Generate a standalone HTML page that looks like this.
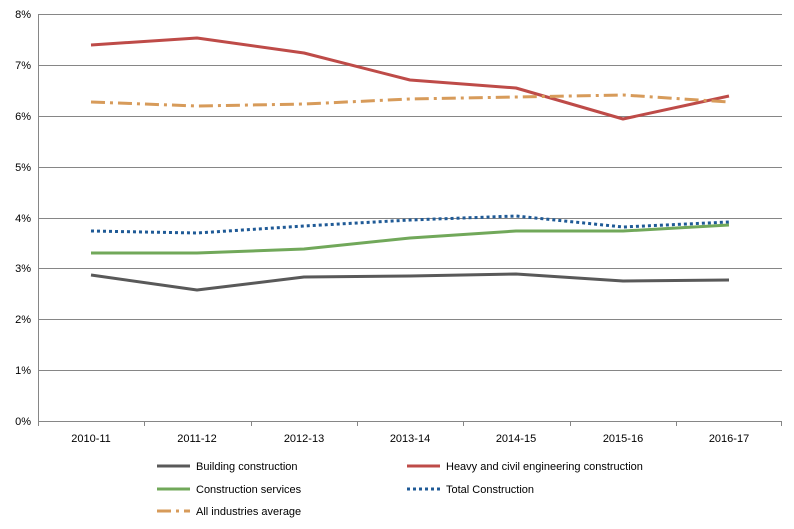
<!DOCTYPE html>
<html><head><meta charset="utf-8"><style>
html,body{margin:0;padding:0;background:#fff;}
svg{display:block;font-family:"Liberation Sans",Arial,sans-serif;}
</style></head><body>
<svg width="794" height="529" viewBox="0 0 794 529" xmlns="http://www.w3.org/2000/svg">
<rect width="794" height="529" fill="#fff"/>
<g stroke="#868686" stroke-width="1">
<line x1="38" y1="14.5" x2="782" y2="14.5"/>
<line x1="38" y1="65.5" x2="782" y2="65.5"/>
<line x1="38" y1="116.5" x2="782" y2="116.5"/>
<line x1="38" y1="167.5" x2="782" y2="167.5"/>
<line x1="38" y1="218.5" x2="782" y2="218.5"/>
<line x1="38" y1="268.5" x2="782" y2="268.5"/>
<line x1="38" y1="319.5" x2="782" y2="319.5"/>
<line x1="38" y1="370.5" x2="782" y2="370.5"/>
<line x1="38" y1="421.5" x2="782" y2="421.5"/>
<line x1="38.5" y1="14" x2="38.5" y2="426"/>
<line x1="144.5" y1="421" x2="144.5" y2="426"/>
<line x1="251.5" y1="421" x2="251.5" y2="426"/>
<line x1="357.5" y1="421" x2="357.5" y2="426"/>
<line x1="463.5" y1="421" x2="463.5" y2="426"/>
<line x1="570.5" y1="421" x2="570.5" y2="426"/>
<line x1="676.5" y1="421" x2="676.5" y2="426"/>
<line x1="781.5" y1="421" x2="781.5" y2="426"/>
</g>
<g font-size="11" fill="#000" text-anchor="end">
<text x="31" y="18">8%</text><text x="31" y="69">7%</text><text x="31" y="120">6%</text>
<text x="31" y="171">5%</text><text x="31" y="222">4%</text><text x="31" y="272">3%</text>
<text x="31" y="323">2%</text><text x="31" y="374">1%</text><text x="31" y="425">0%</text>
</g>
<g font-size="11" fill="#000" text-anchor="middle">
<text x="91" y="442">2010-11</text><text x="197" y="442">2011-12</text><text x="304" y="442">2012-13</text>
<text x="410" y="442">2013-14</text><text x="516" y="442">2014-15</text><text x="623" y="442">2015-16</text>
<text x="729" y="442">2016-17</text>
</g>
<g fill="none" stroke-width="3" stroke-linejoin="round">
<polyline stroke="#be4b48" points="91,45 197,38 304,53 410,80 516,88 623,119 729,96"/>
<polyline stroke="#d79b5a" stroke-dasharray="14,5,3,5" points="91,102 197,106 304,104 410,99 516,97 623,95 729,102"/>
<polyline stroke="#1f5a96" stroke-dasharray="3,3" points="91,231 197,233 304,226 410,220 516,216 623,227 729,222"/>
<polyline stroke="#71a85a" points="91,253 197,253 304,249 410,238 516,231 623,231 729,225"/>
<polyline stroke="#595959" points="91,275 197,290 304,277 410,276 516,274 623,281 729,280"/>
</g>
<g stroke-width="3" fill="none">
<line x1="157" y1="466" x2="190" y2="466" stroke="#595959"/>
<line x1="407" y1="466" x2="440" y2="466" stroke="#be4b48"/>
<line x1="157" y1="489" x2="190" y2="489" stroke="#71a85a"/>
<line x1="407" y1="489" x2="440" y2="489" stroke="#1f5a96" stroke-dasharray="3,3"/>
<line x1="157" y1="511" x2="190" y2="511" stroke="#d79b5a" stroke-dasharray="14,5,3,5"/>
</g>
<g font-size="11" fill="#000">
<text x="196" y="470">Building construction</text>
<text x="446" y="470">Heavy and civil engineering construction</text>
<text x="196" y="493">Construction services</text>
<text x="446" y="493">Total Construction</text>
<text x="196" y="515">All industries average</text>
</g>
</svg>
</body></html>
